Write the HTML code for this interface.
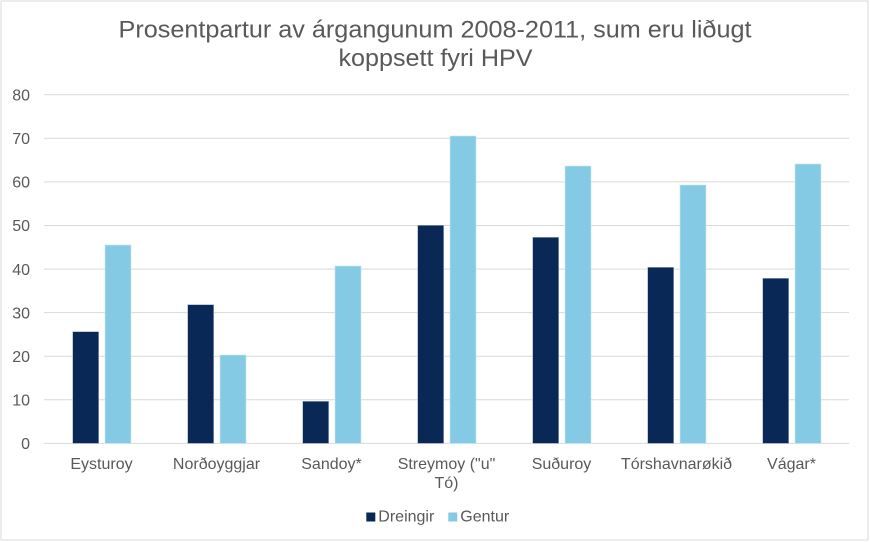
<!DOCTYPE html>
<html>
<head>
<meta charset="utf-8">
<style>
  html, body { margin: 0; padding: 0; background: #ffffff; }
  svg { display: block; }
  text { font-family: "Liberation Sans", Arial, sans-serif; fill: #595959; }
</style>
</head>
<body>
<svg width="870" height="542" viewBox="0 0 870 542" xmlns="http://www.w3.org/2000/svg">
  <rect x="0" y="0" width="870" height="542" fill="#ffffff"/>
  <rect x="1" y="1" width="867" height="539" fill="none" stroke="#d9d9d9" stroke-width="1"/>

  <!-- Title -->
  <text x="118.5" y="37.5" font-size="24.5" textLength="633" lengthAdjust="spacingAndGlyphs">Prosentpartur av árgangunum 2008-2011, sum eru liðugt</text>
  <text x="338.5" y="66" font-size="24.5" textLength="194" lengthAdjust="spacingAndGlyphs">koppsett fyri HPV</text>

  <!-- Gridlines -->
  <g stroke="#d9d9d9" stroke-width="1">
    <line x1="44" y1="94.7" x2="849" y2="94.7"/>
    <line x1="44" y1="138.3" x2="849" y2="138.3"/>
    <line x1="44" y1="181.9" x2="849" y2="181.9"/>
    <line x1="44" y1="225.5" x2="849" y2="225.5"/>
    <line x1="44" y1="269.1" x2="849" y2="269.1"/>
    <line x1="44" y1="312.6" x2="849" y2="312.6"/>
    <line x1="44" y1="356.2" x2="849" y2="356.2"/>
    <line x1="44" y1="399.8" x2="849" y2="399.8"/>
    <line x1="44" y1="443.4" x2="849" y2="443.4"/>
  </g>

  <!-- Y labels -->
  <g font-size="16" text-anchor="end">
    <text x="30" y="100.5">80</text>
    <text x="30" y="144">70</text>
    <text x="30" y="187.6">60</text>
    <text x="30" y="231.2">50</text>
    <text x="30" y="274.8">40</text>
    <text x="30" y="318.3">30</text>
    <text x="30" y="361.9">20</text>
    <text x="30" y="405.5">10</text>
    <text x="30" y="449.1">0</text>
  </g>

  <!-- Bars: dark -->
  <g fill="#0a2856" stroke="#9fb0c8" stroke-width="0.6">
    <rect x="72.7" y="331.7" width="26" height="111.7"/>
    <rect x="187.7" y="304.7" width="26" height="138.7"/>
    <rect x="302.7" y="401.3" width="26" height="42.1"/>
    <rect x="417.7" y="225.3" width="26" height="218.1"/>
    <rect x="532.7" y="237.3" width="26" height="206.1"/>
    <rect x="647.7" y="267.3" width="26" height="176.1"/>
    <rect x="762.7" y="278.3" width="26" height="165.1"/>
  </g>
  <!-- Bars: light -->
  <g fill="#84cae4" stroke="#c9e8f3" stroke-width="0.6">
    <rect x="105" y="245" width="26" height="198.4"/>
    <rect x="220" y="355" width="26" height="88.4"/>
    <rect x="335" y="266" width="26" height="177.4"/>
    <rect x="450" y="136" width="26" height="307.4"/>
    <rect x="565" y="166" width="26" height="277.4"/>
    <rect x="680" y="185" width="26" height="258.4"/>
    <rect x="795" y="164" width="26" height="279.4"/>
  </g>

  <!-- X labels -->
  <g font-size="16" text-anchor="middle">
    <text x="101.5" y="469">Eysturoy</text>
    <text x="216.5" y="469">Norðoyggjar</text>
    <text x="331.5" y="469">Sandoy*</text>
    <text x="446.5" y="469">Streymoy ("u"</text>
    <text x="446.5" y="488">Tó)</text>
    <text x="561.5" y="469">Suðuroy</text>
    <text x="676.5" y="469">Tórshavnarøkið</text>
    <text x="791.5" y="469">Vágar*</text>
  </g>

  <!-- Legend -->
  <rect x="366.3" y="512.5" width="9" height="9" fill="#0a2856"/>
  <text x="378.3" y="521.7" font-size="16">Dreingir</text>
  <rect x="448.3" y="512.5" width="9" height="9" fill="#84cae4"/>
  <text x="460.3" y="521.7" font-size="16">Gentur</text>
</svg>
</body>
</html>
